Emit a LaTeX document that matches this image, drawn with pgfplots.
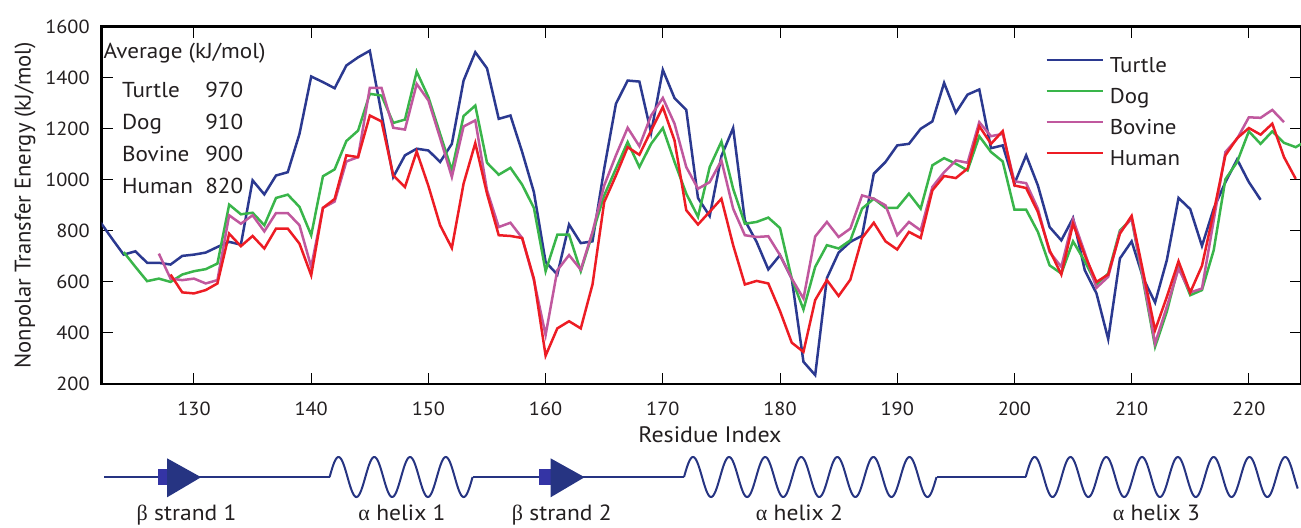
\documentclass[border=0pt]{standalone}
\usepackage{pgfplots}
\pgfplotsset{compat=1.18}
\usepackage{fontspec}
\setmainfont{PT Sans}[FakeStretch=1.07]
\newfontfamily\ylabfont{PT Sans}
\newfontfamily\greekfont{Liberation Serif}
\definecolor{turtle}{RGB}{43,57,144}
\definecolor{dog}{RGB}{57,181,74}
\definecolor{bovine}{RGB}{192,88,158}
\definecolor{human}{RGB}{237,28,36}
\definecolor{struct}{RGB}{38,52,130}
\definecolor{structlight}{RGB}{52,52,165}
\definecolor{txt}{RGB}{35,31,32}
\begin{document}
\begin{tikzpicture}
\path[use as bounding box] (-50.85pt,-71.5pt) rectangle (599.65pt,192pt);
\begin{axis}[
  scale only axis,
  width=599.65pt, height=178.65pt,
  xmin=122.125, xmax=224.45, ymin=200, ymax=1600,
  xtick={130,140,...,220}, ytick={200,400,...,1600},
  tick align=inside,
  major tick length=5.5pt,
  every tick/.style={black, line width=0.5pt},
  axis line style={line width=1.3pt},
  /pgf/number format/assume math mode=true,
  /pgf/number format/1000 sep={},
  ticklabel style={font=\fontsize{9.5}{11}\selectfont, text=txt},
  xticklabel style={anchor=base, inner sep=0pt, yshift=-15.5pt},
  yticklabel style={anchor=east, inner sep=0pt, xshift=-5.85pt},
  xlabel={Residue Index},
  ylabel={Nonpolar Transfer Energy (kJ/mol)},
  xlabel style={font=\fontsize{11.2}{13}\selectfont, text=txt, at={(axis description cs:0.5072,-0.1427)}, anchor=center},
  ylabel style={font=\ylabfont\fontsize{11.3}{13}\selectfont, text=txt, at={(axis description cs:-0.064,0.5)}, anchor=center},
  legend cell align=left,
  legend style={draw=none, fill=none, at={(axis description cs:0.7815,0.9334)}, anchor=north west,
    font=\fontsize{10.7}{12}\selectfont, text=txt, row sep=3pt, column sep=2pt,
    nodes={inner sep=1pt, text height=8pt, text depth=2.5pt}},
  legend image code/.code={\draw[#1] (0pt,3.75pt) -- (28pt,3.75pt);},
  every axis plot/.append style={line width=1.25pt},
]
\addplot[turtle] coordinates {
(122,835)(123,770)(124,707)(125,720)(126,675)(127,675)(128,668)(129,702)(130,707)(131,715)
(132,737)(133,757)(134,746)(135,998)(136,943)(137,1017)(138,1030)(139,1180)(140,1405)(141,1383)
(142,1359)(143,1448)(144,1480)(145,1506)(146,1259)(147,1011)(148,1096)(149,1122)(150,1115)(151,1070)
(152,1141)(153,1389)(154,1500)(155,1437)(156,1239)(157,1252)(158,1109)(159,952)(160,678)(161,629)
(162,825)(163,752)(164,759)(165,1044)(166,1298)(167,1389)(168,1385)(169,1184)(170,1431)(171,1320)
(172,1274)(173,929)(174,858)(175,1093)(176,1203)(177,841)(178,757)(179,649)(180,705)(181,613)
(182,287)(183,235)(184,615)(185,715)(186,757)(187,781)(188,1024)(189,1070)(190,1135)(191,1141)
(192,1200)(193,1229)(194,1380)(195,1263)(196,1334)(197,1354)(198,1124)(199,1135)(200,985)(201,1096)
(202,978)(203,815)(204,763)(205,850)(206,646)(207,555)(208,376)(209,692)(210,759)(211,613)
(212,519)(213,685)(214,929)(215,885)(216,741)(217,887)(218,991)(219,1080)(220,991)(221,922)
};
\addlegendentry{Turtle}
\addplot[dog] coordinates {
(124,717)(125,659)(126,603)(127,613)(128,600)(129,629)(130,642)(131,650)(132,672)(133,903)
(134,865)(135,871)(136,822)(137,929)(138,942)(139,894)(140,783)(141,1014)(142,1041)(143,1152)
(144,1193)(145,1337)(146,1330)(147,1223)(148,1236)(149,1424)(150,1324)(151,1180)(152,1037)(153,1250)
(154,1291)(155,1067)(156,1020)(157,1047)(158,981)(159,890)(160,642)(161,785)(162,785)(163,642)
(164,790)(165,939)(166,1044)(167,1148)(168,1050)(169,1141)(170,1203)(171,1070)(172,946)(173,855)
(174,1050)(175,1150)(176,965)(177,828)(178,835)(179,852)(180,811)(181,613)(182,492)(183,659)
(184,744)(185,731)(186,763)(187,887)(188,926)(189,890)(190,890)(191,946)(192,887)(193,1057)
(194,1085)(195,1063)(196,1037)(197,1171)(198,1109)(199,1072)(200,883)(201,883)(202,796)(203,665)
(204,633)(205,759)(206,681)(207,590)(208,633)(209,802)(210,848)(211,600)(212,346)(213,483)
(214,663)(215,548)(216,568)(217,724)(218,1002)(219,1070)(220,1190)(221,1141)(222,1190)(223,1145)
(224,1128)(225,1155)
};
\addlegendentry{Dog}
\addplot[bovine] coordinates {
(127,711)(128,613)(129,607)(130,613)(131,594)(132,607)(133,861)(134,828)(135,861)(136,798)
(137,870)(138,870)(139,822)(140,659)(141,890)(142,915)(143,1072)(144,1089)(145,1360)(146,1360)
(147,1204)(148,1197)(149,1376)(150,1311)(151,1164)(152,1011)(153,1209)(154,1233)(155,959)(156,815)
(157,832)(158,772)(159,607)(160,392)(161,646)(162,705)(163,648)(164,796)(165,978)(166,1096)
(167,1204)(168,1132)(169,1252)(170,1321)(171,1220)(172,1050)(173,965)(174,991)(175,1076)(176,887)
(177,783)(178,776)(179,779)(180,705)(181,613)(182,535)(183,778)(184,835)(185,776)(186,809)
(187,939)(188,926)(189,900)(190,783)(191,835)(192,802)(193,972)(194,1030)(195,1076)(196,1067)
(197,1226)(198,1171)(199,1180)(200,994)(201,987)(202,887)(203,717)(204,659)(205,845)(206,715)
(207,577)(208,620)(209,796)(210,848)(211,610)(212,359)(213,502)(214,652)(215,559)(216,574)
(217,841)(218,1109)(219,1161)(220,1245)(221,1243)(222,1274)(223,1226)
};
\addlegendentry{Bovine}
\addplot[human] coordinates {
(128,629)(129,559)(130,555)(131,568)(132,594)(133,789)(134,740)(135,780)(136,731)(137,809)
(138,809)(139,750)(140,626)(141,890)(142,925)(143,1096)(144,1089)(145,1252)(146,1229)(147,1017)
(148,972)(149,1111)(150,976)(151,822)(152,733)(153,985)(154,1144)(155,946)(156,783)(157,780)
(158,772)(159,613)(160,311)(161,418)(162,446)(163,418)(164,590)(165,913)(166,1017)(167,1128)
(168,1098)(169,1193)(170,1285)(171,1154)(172,881)(173,825)(174,875)(175,926)(176,744)(177,590)
(178,604)(179,594)(180,486)(181,362)(182,326)(183,529)(184,607)(185,545)(186,609)(187,772)
(188,832)(189,759)(190,727)(191,796)(192,772)(193,959)(194,1015)(195,1007)(196,1044)(197,1210)
(198,1141)(199,1191)(200,978)(201,968)(202,874)(203,724)(204,629)(205,828)(206,705)(207,600)
(208,629)(209,789)(210,859)(211,635)(212,411)(213,541)(214,681)(215,559)(216,663)(217,874)
(218,1096)(219,1163)(220,1203)(221,1177)(222,1220)(223,1089)(224,1004)
};
\addlegendentry{Human}
\end{axis}
% average annotation
\begin{scope}[every node/.style={inner sep=0pt, anchor=base west, text=txt, font=\fontsize{10.8}{12}\selectfont}]
\node at (0.8pt,162.85pt) {Average (kJ/mol)};
\node at (10pt,143.35pt) {Turtle};  \node at (51.65pt,143.35pt) {970};
\node at (10pt,127.35pt) {Dog};     \node at (51.65pt,127.35pt) {910};
\node at (10pt,111.15pt) {Bovine};  \node at (51.65pt,111.15pt) {900};
\node at (10pt,95.35pt) {Human};    \node at (51.65pt,95.35pt) {820};
\end{scope}
% secondary structure
\begin{scope}[struct, line width=1pt]
\draw (1.4pt,-46.5pt) -- (113.95pt,-46.5pt);
\draw[x=1pt, y=1pt, shift={(113.95pt,-46.5pt)}] plot[domain=0:71.5, samples=160] (\x,{10*sin(\x*20.1399)});
\draw (185.45pt,-46.5pt) -- (291.15pt,-46.5pt);
\draw[x=1pt, y=1pt, shift={(291.15pt,-46.5pt)}] plot[domain=0:126.25, samples=280] (\x,{10*sin(\x*19.9601)});
\draw (417.4pt,-46.5pt) -- (462pt,-46.5pt);
\draw[x=1pt, y=1pt, shift={(462pt,-46.5pt)}] plot[domain=0:136, samples=300] (\x,{10*sin(\x*20.1117)});
\fill[structlight] (28.35pt,-50.5pt) rectangle (35.8pt,-42.65pt);
\fill[struct] (32.7pt,-37.15pt) -- (49.7pt,-46.6pt) -- (32.7pt,-56.65pt) -- cycle;
\fill[structlight] (218.65pt,-50.5pt) rectangle (225.9pt,-42.65pt);
\fill[struct] (224.45pt,-37.15pt) -- (241.45pt,-46.6pt) -- (224.45pt,-56.65pt) -- cycle;
\end{scope}
\begin{scope}[every node/.style={inner sep=0pt, anchor=base, text=txt, font=\fontsize{11}{13}\selectfont}]
\node at (42.45pt,-68pt) {{\greekfont β} strand 1};
\node at (150.15pt,-68pt) {{\greekfont α} helix 1};
\node at (230.05pt,-68pt) {{\greekfont β} strand 2};
\node at (348.85pt,-68pt) {{\greekfont α} helix 2};
\node at (527.35pt,-68pt) {{\greekfont α} helix 3};
\end{scope}
\end{tikzpicture}
\end{document}
